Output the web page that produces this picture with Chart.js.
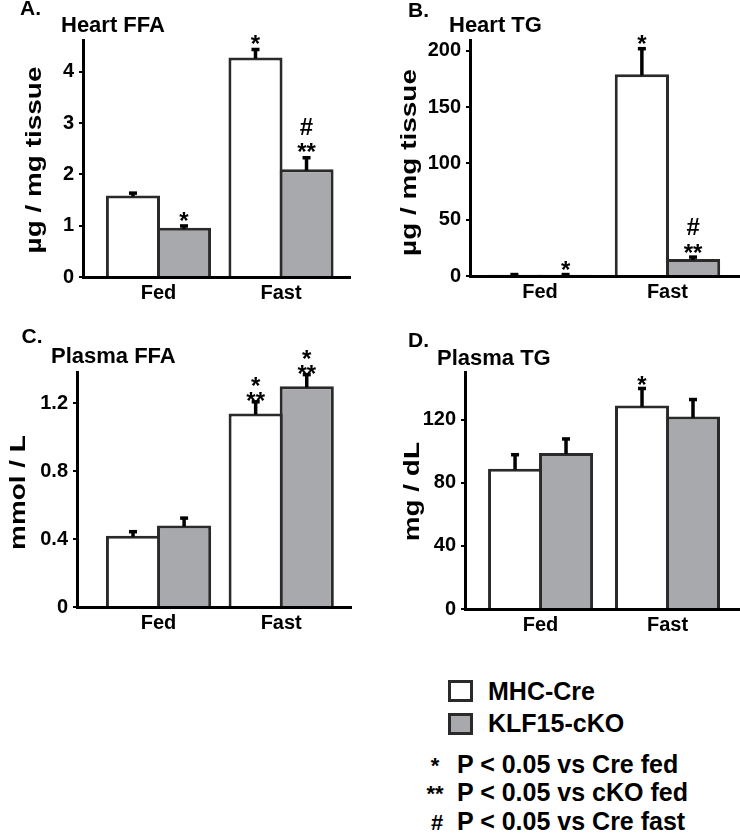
<!DOCTYPE html>
<html>
<head>
<meta charset="utf-8">
<script src="https://cdn.jsdelivr.net/npm/chart.js@4.4.1/dist/chart.umd.min.js"></script>
<style>
    body { margin: 0; background: #fff; }
    #wrap { position: relative; width: 740px; height: 835px; font-family: "Liberation Sans", Arial, Helvetica, sans-serif; font-weight: bold; color: #000; }
    #wrap canvas { position: absolute; }
    .box { position: absolute; box-sizing: border-box; width: 25px; height: 22px; border: 3px solid #2a2a2a; }
    .legText { position: absolute; font-size: 25px; line-height: 25px; white-space: nowrap; }
    .sym { position: absolute; width: 30px; text-align: center; font-size: 22px; line-height: 25px; }
</style>
</head>
<body>
<div id="wrap">
    <canvas id="chartA" width="370" height="320" style="left:0;top:0"></canvas>
    <canvas id="chartB" width="370" height="320" style="left:370px;top:0"></canvas>
    <canvas id="chartC" width="370" height="330" style="left:0;top:320px"></canvas>
    <canvas id="chartD" width="370" height="330" style="left:370px;top:320px"></canvas>

    <div class="box" style="left:448px;top:680px;background:#fff"></div>
    <div class="legText" style="left:488px;top:679px">MHC-Cre</div>
    <div class="box" style="left:448px;top:713px;background:#a7a9ac"></div>
    <div class="legText" style="left:488px;top:711px">KLF15-cKO</div>

    <div class="sym" style="left:420px;top:753px">*</div>
    <div class="legText" style="left:457px;top:752px">P &lt; 0.05 vs Cre fed</div>
    <div class="sym" style="left:420px;top:781px">**</div>
    <div class="legText" style="left:457px;top:780px">P &lt; 0.05 vs cKO fed</div>
    <div class="sym" style="left:422px;top:810px">#</div>
    <div class="legText" style="left:457px;top:809px">P &lt; 0.05 vs Cre fast</div>
</div>

<script>
// ---- data ----
const categories = ['Fed', 'Fast'];
const seriesNames = ['MHC-Cre', 'KLF15-cKO'];

// A. Heart FFA (ug / mg tissue)
const heartFfaCre = [1.59, 4.28];
const heartFfaCreErr = [1.64, 4.44];
const heartFfaKo = [0.96, 2.10];
const heartFfaKoErr = [1.00, 2.33];
const heartFfaTicks = [0, 1, 2, 3, 4];
const heartFfaTickLabels = ['0', '1', '2', '3', '4'];
const heartFfaCreMarks = [[], ['*']];
const heartFfaKoMarks = [['*'], ['**', '#']];

// B. Heart TG (ug / mg tissue)
const heartTgCre = [1, 179];
const heartTgCreErr = [1.5, 202];
const heartTgKo = [1, 15];
const heartTgKoErr = [1.5, 17];
const heartTgTicks = [0, 50, 100, 150, 200];
const heartTgTickLabels = ['0', '50', '100', '150', '200'];
const heartTgCreMarks = [[], ['*']];
const heartTgKoMarks = [['*'], ['**', '#']];

// C. Plasma FFA (mmol / L)
const plasmaFfaCre = [0.42, 1.14];
const plasmaFfaCreErr = [0.445, 1.21];
const plasmaFfaKo = [0.48, 1.30];
const plasmaFfaKoErr = [0.525, 1.37];
const plasmaFfaTicks = [0, 0.4, 0.8, 1.2];
const plasmaFfaTickLabels = ['0', '0.4', '0.8', '1.2'];
const plasmaFfaCreMarks = [[], ['**', '*']];
const plasmaFfaKoMarks = [[], ['**', '*']];

// D. Plasma TG (mg / dL)
const plasmaTgCre = [89, 129];
const plasmaTgCreErr = [98, 140];
const plasmaTgKo = [99, 122];
const plasmaTgKoErr = [108, 133];
const plasmaTgTicks = [0, 40, 80, 120];
const plasmaTgTickLabels = ['0', '40', '80', '120'];
const plasmaTgCreMarks = [[], ['*']];
const plasmaTgKoMarks = [[], []];

// ---- styling ----
const FONT = '"Liberation Sans", Arial, Helvetica, sans-serif';
const GRAY = '#a7a9ac';
const BORDER = '#2a2a2a';
const MARK_SIZE = 24;

const panels = {
    chartA: {
        cre: heartFfaCre, creErr: heartFfaCreErr, ko: heartFfaKo, koErr: heartFfaKoErr,
        ticks: heartFfaTicks, tickLabels: heartFfaTickLabels,
        creMarks: heartFfaCreMarks, koMarks: heartFfaKoMarks,
        area: { left: 83, top: 40, right: 350, bottom: 277 },
        xMin: 0.384, xMax: 2.563, catPct: 0.833, yMax: 4.62,
        letter: { text: 'A.', x: 20, y: 15 },
        title: { text: 'Heart FFA', x: 61, y: 31.7 },
        yTitle: { text: 'µg / mg tissue', x: 41, y: 160 },
        markGap: 11, markStep: 16
    },
    chartB: {
        cre: heartTgCre, creErr: heartTgCreErr, ko: heartTgKo, koErr: heartTgKoErr,
        ticks: heartTgTicks, tickLabels: heartTgTickLabels,
        creMarks: heartTgCreMarks, koMarks: heartTgKoMarks,
        area: { left: 100, top: 40, right: 370, bottom: 276 },
        xMin: 0.451, xMax: 2.569, catPct: 0.803, yMax: 209.5,
        letter: { text: 'B.', x: 38, y: 16.7 },
        title: { text: 'Heart TG', x: 79, y: 32.3 },
        yTitle: { text: 'µg / mg tissue', x: 45.6, y: 162.5 },
        markGap: 10, markStep: 16
    },
    chartC: {
        cre: plasmaFfaCre, creErr: plasmaFfaCreErr, ko: plasmaFfaKo, koErr: plasmaFfaKoErr,
        ticks: plasmaFfaTicks, tickLabels: plasmaFfaTickLabels,
        creMarks: plasmaFfaCreMarks, koMarks: plasmaFfaKoMarks,
        area: { left: 77, top: 52, right: 351, bottom: 287 },
        xMin: 0.335, xMax: 2.569, catPct: 0.833, yMax: 1.384,
        letter: { text: 'C.', x: 21.5, y: 23 },
        title: { text: 'Plasma FFA', x: 51, y: 43.3 },
        yTitle: { text: 'mmol / L', x: 25, y: 172.5 },
        markGap: 6.5, markStep: 15
    },
    chartD: {
        cre: plasmaTgCre, creErr: plasmaTgCreErr, ko: plasmaTgKo, koErr: plasmaTgKoErr,
        ticks: plasmaTgTicks, tickLabels: plasmaTgTickLabels,
        creMarks: plasmaTgCreMarks, koMarks: plasmaTgKoMarks,
        area: { left: 95, top: 52, right: 370, bottom: 289 },
        xMin: 0.405, xMax: 2.571, catPct: 0.803, yMax: 150.3,
        letter: { text: 'D.', x: 38, y: 26.7 },
        title: { text: 'Plasma TG', x: 67, y: 45 },
        yTitle: { text: 'mg / dL', x: 49, y: 171.7 },
        markGap: 9, markStep: 16
    }
};

// error bars (upper only), significance marks, panel titles
const panelDecor = {
    id: 'panelDecor',
    afterDatasetsDraw(chart) {
        const p = panels[chart.canvas.id];
        const ctx = chart.ctx;
        const yScale = chart.scales.y;
        const errors = [p.creErr, p.koErr];
        const marks = [p.creMarks, p.koMarks];

        ctx.save();
        chart.data.datasets.forEach((ds, di) => {
            chart.getDatasetMeta(di).data.forEach((bar, i) => {
                const errY = yScale.getPixelForValue(errors[di][i]);
                ctx.strokeStyle = '#000';
                ctx.lineWidth = 3.5;
                ctx.beginPath();
                ctx.moveTo(bar.x, bar.y + 1);
                ctx.lineTo(bar.x, errY);
                ctx.stroke();
                ctx.fillStyle = '#000';
                ctx.fillRect(bar.x - 4, errY - 1.5, 8, 3.5);

                // marks stacked upward from the error bar top
                ctx.font = 'bold ' + MARK_SIZE + 'px ' + FONT;
                ctx.textAlign = 'center';
                ctx.textBaseline = 'alphabetic';
                let center = errY - p.markGap;
                marks[di][i].forEach((txt, j) => {
                    if (j > 0) center -= (txt === '#' ? 20 : p.markStep);
                    const lift = txt === '#' ? 0.36 : 0.58;
                    ctx.fillText(txt, bar.x, center + lift * MARK_SIZE);
                });
            });
        });
        ctx.restore();
    },
    afterDraw(chart) {
        const p = panels[chart.canvas.id];
        const ctx = chart.ctx;
        ctx.save();
        ctx.fillStyle = '#000';
        ctx.textBaseline = 'alphabetic';
        ctx.textAlign = 'left';
        ctx.font = 'bold 21px ' + FONT;
        ctx.fillText(p.letter.text, p.letter.x, p.letter.y);
        ctx.font = 'bold 22px ' + FONT;
        ctx.fillText(p.title.text, p.title.x, p.title.y);

        // y title: rotated and stretched along its length like the original
        ctx.translate(p.yTitle.x, p.yTitle.y);
        ctx.rotate(-Math.PI / 2);
        ctx.scale(1.27, 1);
        ctx.textAlign = 'center';
        ctx.font = 'bold 22px ' + FONT;
        ctx.fillText(p.yTitle.text, 0, 0);
        ctx.restore();
    }
};

function toPoints(values) {
    return values.map((v, i) => ({ x: i + 1, y: v }));
}

function buildPanel(id) {
    const p = panels[id];
    const canvas = document.getElementById(id);
    const tickFont = { family: FONT, size: 20, weight: 'bold' };

    return new Chart(canvas.getContext('2d'), {
        type: 'bar',
        data: {
            datasets: [
                { label: seriesNames[0], data: toPoints(p.cre), backgroundColor: '#ffffff', borderColor: BORDER, borderWidth: 3 },
                { label: seriesNames[1], data: toPoints(p.ko), backgroundColor: GRAY, borderColor: BORDER, borderWidth: 3 }
            ]
        },
        options: {
            responsive: false,
            animation: false,
            events: [],
            layout: { padding: { left: 0, top: p.area.top, right: canvas.width - p.area.right, bottom: 0 } },
            datasets: { bar: { categoryPercentage: p.catPct, barPercentage: 1.06 } },
            plugins: { legend: { display: false }, tooltip: { enabled: false } },
            scales: {
                x: {
                    type: 'linear',
                    offset: false,
                    min: p.xMin,
                    max: p.xMax,
                    afterBuildTicks: s => { s.ticks = categories.map((c, i) => ({ value: i + 1 })); },
                    afterFit: s => { s.height = canvas.height - p.area.bottom; },
                    ticks: { callback: (v, i) => categories[i], color: '#000', font: tickFont, padding: -4, maxRotation: 0, autoSkip: false },
                    grid: { display: false },
                    border: { display: true, color: '#000', width: 3 }
                },
                y: {
                    min: 0,
                    max: p.yMax,
                    afterBuildTicks: s => { s.ticks = p.ticks.map(v => ({ value: v })); },
                    afterFit: s => { s.width = p.area.left; },
                    ticks: { callback: (v, i) => p.tickLabels[i], color: '#000', font: tickFont, padding: 5, autoSkip: false },
                    grid: { drawOnChartArea: false, drawTicks: true, tickLength: 4, color: '#000', lineWidth: 2 },
                    border: { display: true, color: '#000', width: 3 }
                }
            }
        },
        plugins: [panelDecor]
    });
}

['chartA', 'chartB', 'chartC', 'chartD'].forEach(buildPanel);
</script>
</body>
</html>
